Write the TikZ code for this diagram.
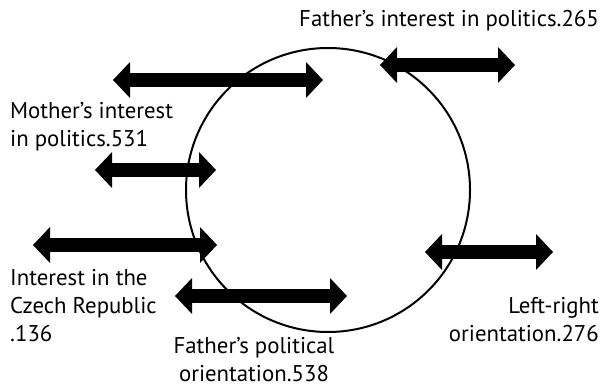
\documentclass[tikz,border=0pt]{standalone}
\usepackage{fontspec}
\setmainfont{PT Sans}
\usetikzlibrary{arrows.meta}

\tikzset{
    fat/.style={line width=13.5pt, {Triangle[length=17pt,width=36pt,line width=0pt]}-{Triangle[length=17pt,width=36pt,line width=0pt]}},
    lbl/.style={inner sep=0pt, font=\fontsize{22.8}{28.2}\selectfont},
}

\begin{document}
\begin{tikzpicture}[x=1pt,y=-1pt]
    \useasboundingbox (0,0) rectangle (601,387);

    % The circle
    \node[draw, circle, line width=2pt, minimum size=284pt, inner sep=0pt] (ring) at (328,190) {};

    % Define the ends of the arrows
    \coordinate (a1l) at (113,80);
    \coordinate (a1r) at (323,80);
    \coordinate (a2l) at (380,65);
    \coordinate (a2r) at (515,65);
    \coordinate (a3l) at (95,170);
    \coordinate (a3r) at (216,170);
    \coordinate (a4l) at (33,245);
    \coordinate (a4r) at (217,245);
    \coordinate (a5l) at (175,296);
    \coordinate (a5r) at (347,296);
    \coordinate (a6l) at (425,252);
    \coordinate (a6r) at (553,252);

    % Draw the arrows
    \draw[fat] (a1l) -- (a1r);
    \draw[fat] (a2l) -- (a2r);
    \draw[fat] (a3l) -- (a3r);
    \draw[fat] (a4l) -- (a4r);
    \draw[fat] (a5l) -- (a5r);
    \draw[fat] (a6l) -- (a6r);

    % Labels (base = baseline of the last line)
    \node[lbl, anchor=base east] (fip) at (599,26.7) {Father’s interest in politics.265};
    \node[lbl, anchor=base west, align=left] (mip) at (10,146.7) {Mother’s interest\\in politics.531};
    \node[lbl, anchor=base west, align=left] (icr) at (10,341.7) {Interest in the\\Czech Republic\\.136};
    \node[lbl, anchor=base east, align=right] (lro) at (599,341.7) {Left-right\\orientation.276};
    \node[lbl, anchor=base, align=center] (fpo) at (254,381.5) {Father’s political\\orientation.538};
\end{tikzpicture}
\end{document}
